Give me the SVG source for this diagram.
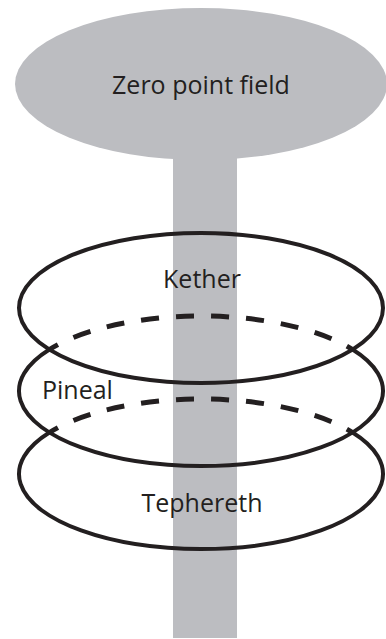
<svg xmlns="http://www.w3.org/2000/svg" width="386" height="639" viewBox="0 0 386 639">
  <style>
    .field { fill: #bcbdc1; }
    .ring { fill: none; stroke: #231f20; stroke-width: 4; }
    .back { fill: none; stroke: #231f20; stroke-width: 5; stroke-dasharray: 18 17; stroke-dashoffset: 8; }
    .label { font-family: "Open Sans", "Noto Sans", sans-serif; font-size: 25px; fill: #231f20; }
  </style>
  <rect width="386" height="639" fill="#ffffff"/>
  <g id="zero-point-field">
    <ellipse class="field" cx="201" cy="84" rx="186" ry="76"/>
    <text class="label" x="201" y="94" text-anchor="middle">Zero point field</text>
  </g>
  <g id="connectors">
    <rect id="column" class="field" x="173" y="140" width="64" height="498"/>
  </g>
  <g id="kether">
    <ellipse class="ring" cx="201" cy="308" rx="182" ry="75"/>
    <text class="label" x="202" y="288" text-anchor="middle">Kether</text>
  </g>
  <g id="pineal">
    <path class="back" d="M 49.4 349.5 A 182 75 0 0 1 352.6 349.5"/>
    <path class="ring" d="M 352.6 349.5 A 182 75 0 1 1 49.4 349.5"/>
    <text class="label" x="42" y="399">Pineal</text>
  </g>
  <g id="tephereth">
    <path class="back" d="M 49.4 432.5 A 182 75 0 0 1 352.6 432.5"/>
    <path class="ring" d="M 352.6 432.5 A 182 75 0 1 1 49.4 432.5"/>
    <text class="label" x="202" y="512" text-anchor="middle">Tephereth</text>
  </g>
</svg>
